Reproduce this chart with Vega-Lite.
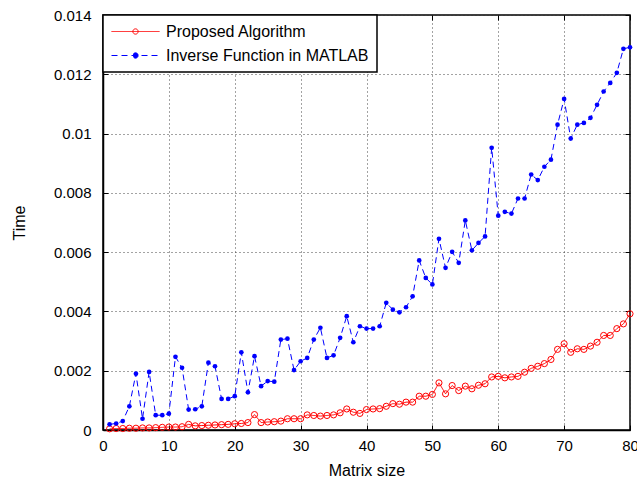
{
"$schema":"https://vega.github.io/schema/vega-lite/v6.json",
"width":527,"height":415,
"autosize":{"type":"none"},
"padding":{"left":103,"top":15,"right":7,"bottom":50},
"background":"white",
"config":{
"font":"Liberation Sans",
"view":{"stroke":"black","strokeWidth":1.5},
"axis":{"domainColor":"black","domainWidth":1.5,"tickColor":"black","tickSize":-5,"tickWidth":1,"labelFontSize":15,"labelColor":"black","labelFont":"Liberation Sans","labelFlush":false,"titleFont":"Liberation Sans","titleFontSize":16,"titleFontWeight":"normal","titleColor":"black","gridColor":"#333333","gridDash":[1,3],"gridOpacity":0.9,"gridWidth":1}
},
"data":{"values":[
{"n":1,"s":"Proposed Algorithm","t":0.00004},{"n":2,"s":"Proposed Algorithm","t":0.00005},{"n":3,"s":"Proposed Algorithm","t":0.00005},{"n":4,"s":"Proposed Algorithm","t":0.00006},{"n":5,"s":"Proposed Algorithm","t":0.00006},{"n":6,"s":"Proposed Algorithm","t":0.00007},{"n":7,"s":"Proposed Algorithm","t":0.00007},{"n":8,"s":"Proposed Algorithm","t":0.00008},{"n":9,"s":"Proposed Algorithm","t":0.00009},{"n":10,"s":"Proposed Algorithm","t":0.0001},
{"n":11,"s":"Proposed Algorithm","t":0.0001},{"n":12,"s":"Proposed Algorithm","t":0.00011},{"n":13,"s":"Proposed Algorithm","t":0.00019},{"n":14,"s":"Proposed Algorithm","t":0.00014},{"n":15,"s":"Proposed Algorithm","t":0.00015},{"n":16,"s":"Proposed Algorithm","t":0.00016},{"n":17,"s":"Proposed Algorithm","t":0.00017},{"n":18,"s":"Proposed Algorithm","t":0.00018},{"n":19,"s":"Proposed Algorithm","t":0.00019},{"n":20,"s":"Proposed Algorithm","t":0.00021},
{"n":21,"s":"Proposed Algorithm","t":0.00022},{"n":22,"s":"Proposed Algorithm","t":0.00025},{"n":23,"s":"Proposed Algorithm","t":0.00052},{"n":24,"s":"Proposed Algorithm","t":0.00025},{"n":25,"s":"Proposed Algorithm","t":0.00027},{"n":26,"s":"Proposed Algorithm","t":0.00028},{"n":27,"s":"Proposed Algorithm","t":0.0003},{"n":28,"s":"Proposed Algorithm","t":0.00038},{"n":29,"s":"Proposed Algorithm","t":0.00038},{"n":30,"s":"Proposed Algorithm","t":0.00038},
{"n":31,"s":"Proposed Algorithm","t":0.00051},{"n":32,"s":"Proposed Algorithm","t":0.00049},{"n":33,"s":"Proposed Algorithm","t":0.00047},{"n":34,"s":"Proposed Algorithm","t":0.00049},{"n":35,"s":"Proposed Algorithm","t":0.00051},{"n":36,"s":"Proposed Algorithm","t":0.00058},{"n":37,"s":"Proposed Algorithm","t":0.00071},{"n":38,"s":"Proposed Algorithm","t":0.0006},{"n":39,"s":"Proposed Algorithm","t":0.00056},{"n":40,"s":"Proposed Algorithm","t":0.00069},
{"n":41,"s":"Proposed Algorithm","t":0.00071},{"n":42,"s":"Proposed Algorithm","t":0.00072},{"n":43,"s":"Proposed Algorithm","t":0.0008},{"n":44,"s":"Proposed Algorithm","t":0.00089},{"n":45,"s":"Proposed Algorithm","t":0.00087},{"n":46,"s":"Proposed Algorithm","t":0.00094},{"n":47,"s":"Proposed Algorithm","t":0.00094},{"n":48,"s":"Proposed Algorithm","t":0.00114},{"n":49,"s":"Proposed Algorithm","t":0.00114},{"n":50,"s":"Proposed Algorithm","t":0.0012},
{"n":51,"s":"Proposed Algorithm","t":0.00159},{"n":52,"s":"Proposed Algorithm","t":0.00122},{"n":53,"s":"Proposed Algorithm","t":0.0015},{"n":54,"s":"Proposed Algorithm","t":0.00133},{"n":55,"s":"Proposed Algorithm","t":0.00148},{"n":56,"s":"Proposed Algorithm","t":0.00139},{"n":57,"s":"Proposed Algorithm","t":0.00151},{"n":58,"s":"Proposed Algorithm","t":0.00156},{"n":59,"s":"Proposed Algorithm","t":0.00179},{"n":60,"s":"Proposed Algorithm","t":0.00181},
{"n":61,"s":"Proposed Algorithm","t":0.00176},{"n":62,"s":"Proposed Algorithm","t":0.00179},{"n":63,"s":"Proposed Algorithm","t":0.00181},{"n":64,"s":"Proposed Algorithm","t":0.00195},{"n":65,"s":"Proposed Algorithm","t":0.00208},{"n":66,"s":"Proposed Algorithm","t":0.00215},{"n":67,"s":"Proposed Algorithm","t":0.00224},{"n":68,"s":"Proposed Algorithm","t":0.00238},{"n":69,"s":"Proposed Algorithm","t":0.00272},{"n":70,"s":"Proposed Algorithm","t":0.00291},
{"n":71,"s":"Proposed Algorithm","t":0.00262},{"n":72,"s":"Proposed Algorithm","t":0.00274},{"n":73,"s":"Proposed Algorithm","t":0.00272},{"n":74,"s":"Proposed Algorithm","t":0.00283},{"n":75,"s":"Proposed Algorithm","t":0.00296},{"n":76,"s":"Proposed Algorithm","t":0.00319},{"n":77,"s":"Proposed Algorithm","t":0.00319},{"n":78,"s":"Proposed Algorithm","t":0.00342},{"n":79,"s":"Proposed Algorithm","t":0.00358},{"n":80,"s":"Proposed Algorithm","t":0.00392},
{"n":1,"s":"Inverse Function in MATLAB","t":0.00019},{"n":2,"s":"Inverse Function in MATLAB","t":0.00022},{"n":3,"s":"Inverse Function in MATLAB","t":0.0003},{"n":4,"s":"Inverse Function in MATLAB","t":0.0008},{"n":5,"s":"Inverse Function in MATLAB","t":0.0019},{"n":6,"s":"Inverse Function in MATLAB","t":0.00038},{"n":7,"s":"Inverse Function in MATLAB","t":0.00196},{"n":8,"s":"Inverse Function in MATLAB","t":0.0005},{"n":9,"s":"Inverse Function in MATLAB","t":0.0005},{"n":10,"s":"Inverse Function in MATLAB","t":0.00055},
{"n":11,"s":"Inverse Function in MATLAB","t":0.00247},{"n":12,"s":"Inverse Function in MATLAB","t":0.0021},{"n":13,"s":"Inverse Function in MATLAB","t":0.00069},{"n":14,"s":"Inverse Function in MATLAB","t":0.0007},{"n":15,"s":"Inverse Function in MATLAB","t":0.0008},{"n":16,"s":"Inverse Function in MATLAB","t":0.00227},{"n":17,"s":"Inverse Function in MATLAB","t":0.00215},{"n":18,"s":"Inverse Function in MATLAB","t":0.00105},{"n":19,"s":"Inverse Function in MATLAB","t":0.00105},{"n":20,"s":"Inverse Function in MATLAB","t":0.00114},
{"n":21,"s":"Inverse Function in MATLAB","t":0.00262},{"n":22,"s":"Inverse Function in MATLAB","t":0.00127},{"n":23,"s":"Inverse Function in MATLAB","t":0.00249},{"n":24,"s":"Inverse Function in MATLAB","t":0.00148},{"n":25,"s":"Inverse Function in MATLAB","t":0.00165},{"n":26,"s":"Inverse Function in MATLAB","t":0.00163},{"n":27,"s":"Inverse Function in MATLAB","t":0.00305},{"n":28,"s":"Inverse Function in MATLAB","t":0.00308},{"n":29,"s":"Inverse Function in MATLAB","t":0.00202},{"n":30,"s":"Inverse Function in MATLAB","t":0.00232},
{"n":31,"s":"Inverse Function in MATLAB","t":0.00243},{"n":32,"s":"Inverse Function in MATLAB","t":0.00305},{"n":33,"s":"Inverse Function in MATLAB","t":0.00345},{"n":34,"s":"Inverse Function in MATLAB","t":0.00243},{"n":35,"s":"Inverse Function in MATLAB","t":0.00252},{"n":36,"s":"Inverse Function in MATLAB","t":0.00311},{"n":37,"s":"Inverse Function in MATLAB","t":0.00384},{"n":38,"s":"Inverse Function in MATLAB","t":0.00296},{"n":39,"s":"Inverse Function in MATLAB","t":0.0035},{"n":40,"s":"Inverse Function in MATLAB","t":0.00342},
{"n":41,"s":"Inverse Function in MATLAB","t":0.00342},{"n":42,"s":"Inverse Function in MATLAB","t":0.0035},{"n":43,"s":"Inverse Function in MATLAB","t":0.00429},{"n":44,"s":"Inverse Function in MATLAB","t":0.00406},{"n":45,"s":"Inverse Function in MATLAB","t":0.00397},{"n":46,"s":"Inverse Function in MATLAB","t":0.00414},{"n":47,"s":"Inverse Function in MATLAB","t":0.00451},{"n":48,"s":"Inverse Function in MATLAB","t":0.00572},{"n":49,"s":"Inverse Function in MATLAB","t":0.00513},{"n":50,"s":"Inverse Function in MATLAB","t":0.00491},
{"n":51,"s":"Inverse Function in MATLAB","t":0.00645},{"n":52,"s":"Inverse Function in MATLAB","t":0.00547},{"n":53,"s":"Inverse Function in MATLAB","t":0.00601},{"n":54,"s":"Inverse Function in MATLAB","t":0.00564},{"n":55,"s":"Inverse Function in MATLAB","t":0.00707},{"n":56,"s":"Inverse Function in MATLAB","t":0.00606},{"n":57,"s":"Inverse Function in MATLAB","t":0.00631},{"n":58,"s":"Inverse Function in MATLAB","t":0.00653},{"n":59,"s":"Inverse Function in MATLAB","t":0.00952},{"n":60,"s":"Inverse Function in MATLAB","t":0.00723},
{"n":61,"s":"Inverse Function in MATLAB","t":0.00736},{"n":62,"s":"Inverse Function in MATLAB","t":0.0073},{"n":63,"s":"Inverse Function in MATLAB","t":0.00781},{"n":64,"s":"Inverse Function in MATLAB","t":0.00781},{"n":65,"s":"Inverse Function in MATLAB","t":0.00862},{"n":66,"s":"Inverse Function in MATLAB","t":0.00843},{"n":67,"s":"Inverse Function in MATLAB","t":0.00888},{"n":68,"s":"Inverse Function in MATLAB","t":0.00912},{"n":69,"s":"Inverse Function in MATLAB","t":0.0103},{"n":70,"s":"Inverse Function in MATLAB","t":0.01117},
{"n":71,"s":"Inverse Function in MATLAB","t":0.00983},{"n":72,"s":"Inverse Function in MATLAB","t":0.0103},{"n":73,"s":"Inverse Function in MATLAB","t":0.01036},{"n":74,"s":"Inverse Function in MATLAB","t":0.01053},{"n":75,"s":"Inverse Function in MATLAB","t":0.01097},{"n":76,"s":"Inverse Function in MATLAB","t":0.01142},{"n":77,"s":"Inverse Function in MATLAB","t":0.01171},{"n":78,"s":"Inverse Function in MATLAB","t":0.01205},{"n":79,"s":"Inverse Function in MATLAB","t":0.01286},{"n":80,"s":"Inverse Function in MATLAB","t":0.01291}
]},
"layer":[
{"mark":{"type":"line","strokeWidth":1},
"encoding":{
"x":{"field":"n","type":"quantitative","scale":{"domain":[0,80],"nice":false,"padding":0},"axis":{"orient":"bottom","title":"Matrix size","values":[0,10,20,30,40,50,60,70,80],"grid":true,"labelPadding":13,"titleY":40,"titleBaseline":"middle"}},
"y":{"field":"t","type":"quantitative","scale":{"domain":[0,0.014],"nice":false,"padding":0},"axis":{"orient":"left","title":"Time","values":[0,0.002,0.004,0.006,0.008,0.01,0.012,0.014],"grid":true,"labelPadding":17,"labelExpr":"format(datum.value, '.3~f')","titleX":-84,"titleBaseline":"middle"}},
"color":{"field":"s","type":"nominal","scale":{"domain":["Proposed Algorithm","Inverse Function in MATLAB"],"range":["#ff0000","#0000ff"]},
"legend":{"title":null,"orient":"top-left","offset":0,"symbolType":"M-1,0L5,0M2.33,0A0.33,0.33,0,1,1,1.67,0A0.33,0.33,0,1,1,2.33,0Z","symbolSize":256,"symbolStrokeWidth":1,"labelFontSize":16,"labelFont":"Liberation Sans","labelColor":"black","labelOffset":38,"padding":8,"rowPadding":7,"strokeColor":"black","fillColor":"white","labelLimit":400,
"encode":{"legend":{"update":{"strokeWidth":{"value":1.5}}},"symbols":{"update":{"fill":[{"test":"datum.value === 'Inverse Function in MATLAB'","value":"#0000ff"},{"value":"transparent"}],"strokeDash":[{"test":"datum.value === 'Inverse Function in MATLAB'","value":[12,24]},{"value":[1,0]}]}}}}},
"strokeDash":{"field":"s","type":"nominal","scale":{"domain":["Proposed Algorithm","Inverse Function in MATLAB"],"range":[[1,0],[6,4]]},"legend":null}
}},
{"transform":[{"filter":"datum.s === 'Proposed Algorithm'"}],
"mark":{"type":"point","shape":"circle","strokeWidth":1,"opacity":1,"filled":false,"color":"#ff0000","size":38},
"encoding":{
"x":{"field":"n","type":"quantitative","scale":{"domain":[0,80],"nice":false,"padding":0},"axis":{"orient":"top","labels":false,"title":null,"grid":false,"domain":false,"values":[0,10,20,30,40,50,60,70,80]}},
"y":{"field":"t","type":"quantitative","scale":{"domain":[0,0.014],"nice":false,"padding":0},"axis":{"orient":"right","labels":false,"title":null,"grid":false,"domain":false,"values":[0,0.002,0.004,0.006,0.008,0.01,0.012,0.014]}}
}},
{"transform":[{"filter":"datum.s === 'Inverse Function in MATLAB'"}],
"mark":{"type":"point","shape":"circle","strokeWidth":1,"opacity":1,"filled":true,"color":"#0000ff","size":22},
"encoding":{
"x":{"field":"n","type":"quantitative","axis":null},
"y":{"field":"t","type":"quantitative","axis":null}
}}
],
"resolve":{"axis":{"x":"independent","y":"independent"}}
}
